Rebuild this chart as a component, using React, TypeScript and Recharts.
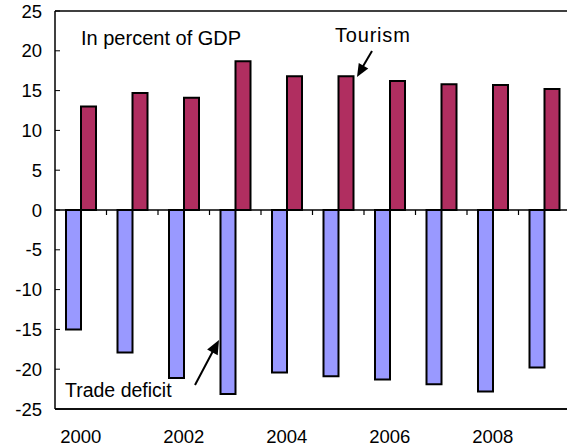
import React from 'react';
import { BarChart, Bar, XAxis, YAxis, ReferenceLine } from 'recharts';

const years = ['2000', '2001', '2002', '2003', '2004', '2005', '2006', '2007', '2008', '2009'];
const tradeDeficit = [-15.0, -17.9, -21.1, -23.1, -20.4, -20.9, -21.3, -21.9, -22.8, -19.8];
const tourism = [13.0, 14.7, 14.1, 18.7, 16.8, 16.8, 16.2, 15.8, 15.7, 15.2];
const xTicks = ['2000', '2002', '2004', '2006', '2008'];
const yTicks = [-25, -20, -15, -10, -5, 0, 5, 10, 15, 20, 25];

const data = years.map((y, i) => ({ year: y, trade: tradeDeficit[i], tourism: tourism[i] }));

const FONT = '"Liberation Sans", Arial, sans-serif';

const YTick = (props: any) => {
  const { x, y, payload } = props;
  const axisX = x + 13;
  return (
    <g>
      <line x1={axisX} y1={y} x2={axisX + 5} y2={y} stroke="#000" strokeWidth={1} />
      <text x={x} y={y} dy="0.36em" textAnchor="end" fontSize={18.5} fontFamily={FONT} fill="#000">
        {payload.value}
      </text>
    </g>
  );
};

const ZeroLine = (props: any) => {
  const { x1, y1, x2, y2 } = props;
  const n = years.length;
  const step = (x2 - x1) / n;
  const ticks = [];
  for (let i = 1; i <= n; i++) {
    const tx = x1 + step * i;
    ticks.push(<line key={i} x1={tx} y1={y1} x2={tx} y2={y1 + 5} stroke="#000" strokeWidth={1.2} />);
  }
  return (
    <g>
      <line x1={x1} y1={y1} x2={x2} y2={y2} stroke="#000" strokeWidth={1.3} />
      {ticks}
    </g>
  );
};

const EdgeLine = (props: any) => {
  const { x1, y1, x2, y2 } = props;
  return <line x1={x1} y1={y1} x2={x2} y2={y2} stroke="#000" strokeWidth={1.5} />;
};

function arrowHead(tx: number, ty: number, fx: number, fy: number, len: number, w: number) {
  const dx = tx - fx;
  const dy = ty - fy;
  const d = Math.sqrt(dx * dx + dy * dy);
  const ux = dx / d;
  const uy = dy / d;
  const bx = tx - ux * len;
  const by = ty - uy * len;
  const px = -uy * w / 2;
  const py = ux * w / 2;
  return `${tx},${ty} ${bx + px},${by + py} ${bx - px},${by - py}`;
}

export default function App() {
  return (
    <div style={{ position: 'absolute', left: 0, top: 0, width: 567, height: 448, overflow: 'hidden', background: '#fff' }}>
      <BarChart
        width={572}
        height={448}
        data={data}
        margin={{ top: 11, right: 2, bottom: 0, left: 0 }}
        barGap={0}
        barSize={15}
      >
        <XAxis
          dataKey="year"
          ticks={xTicks}
          interval={0}
          tickLine={false}
          tickSize={0}
          tickMargin={21}
          height={39}
          axisLine={{ stroke: '#000', strokeWidth: 1.5 }}
          tick={{ fontSize: 18.5, fontFamily: FONT, fill: '#000' }}
        />
        <YAxis
          domain={[-25, 25]}
          ticks={yTicks}
          interval={0}
          width={55}
          tickLine={false}
          tickSize={0}
          tickMargin={13}
          axisLine={{ stroke: '#000', strokeWidth: 1.5 }}
          tick={<YTick />}
        />
        <ReferenceLine y={25} shape={<EdgeLine />} ifOverflow="visible" />
        <ReferenceLine y={-25} shape={<EdgeLine />} ifOverflow="visible" />
        <ReferenceLine y={0} shape={<ZeroLine />} ifOverflow="visible" />
        <Bar dataKey="trade" fill="#9999FF" stroke="#000" strokeWidth={2} isAnimationActive={false} />
        <Bar dataKey="tourism" fill="#B02E60" stroke="#000" strokeWidth={2} isAnimationActive={false} />
      </BarChart>
      <svg width={567} height={448} style={{ position: 'absolute', left: 0, top: 0, pointerEvents: 'none' }}>
        <g fontFamily={FONT} fill="#000">
          <text x={81} y={45} fontSize={20}>In percent of GDP</text>
          <text x={335} y={42} fontSize={20} letterSpacing={0.8}>Tourism</text>
          <text x={65} y={397} fontSize={19.5}>Trade deficit</text>
        </g>
        <line x1={372} y1={51} x2={362} y2={68} stroke="#000" strokeWidth={2} />
        <polygon points={arrowHead(357, 77, 372, 51, 13, 11)} fill="#000" />
        <line x1={195} y1={385} x2={213} y2={351} stroke="#000" strokeWidth={2} />
        <polygon points={arrowHead(219, 340, 195, 385, 14, 12)} fill="#000" />
      </svg>
    </div>
  );
}
